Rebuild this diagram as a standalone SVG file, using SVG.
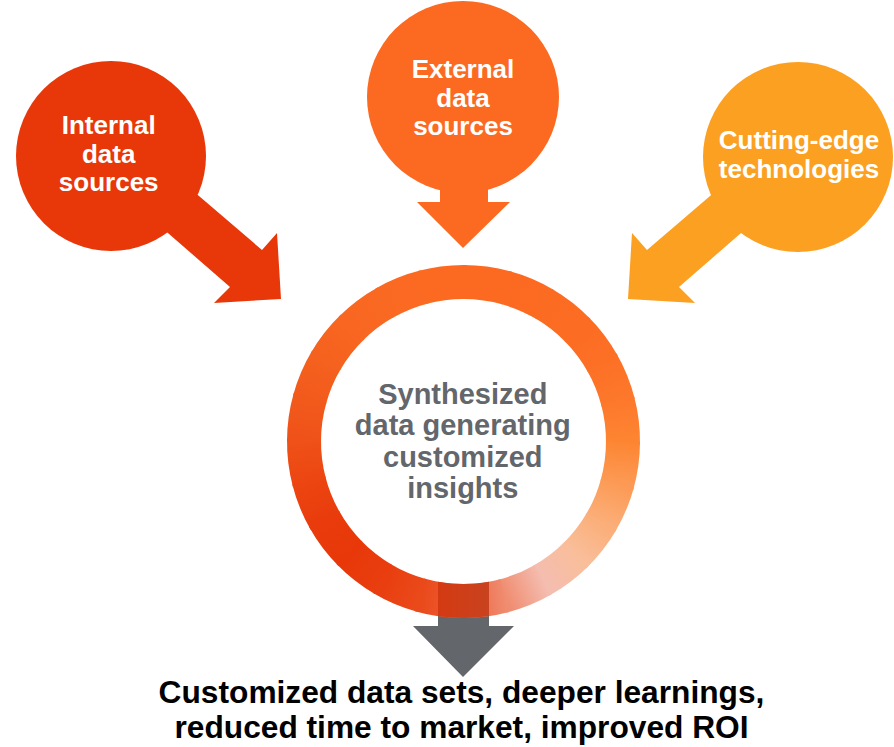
<svg xmlns="http://www.w3.org/2000/svg" width="894" height="747" viewBox="0 0 894 747">
<style>
.lbl{font-family:"Liberation Sans",Arial,sans-serif;font-weight:bold;text-anchor:middle}
.w{fill:#FFFFFF;font-size:26px}
.g{fill:#63666A;font-size:29px}
.k{fill:#000000;font-size:31.7px}
.seg{fill:none;stroke-width:34}
</style>
<defs>
<linearGradient id="s0" gradientUnits="userSpaceOnUse" x1="463.5" y1="282" x2="504.78" y2="287.44"><stop offset="0" stop-color="#FC6A22"/><stop offset="1" stop-color="#FC6A22"/></linearGradient>
<linearGradient id="s1" gradientUnits="userSpaceOnUse" x1="504.78" y1="287.44" x2="543.25" y2="303.37"><stop offset="0" stop-color="#FC6A22"/><stop offset="1" stop-color="#FC6B22"/></linearGradient>
<linearGradient id="s2" gradientUnits="userSpaceOnUse" x1="543.25" y1="303.37" x2="576.28" y2="328.72"><stop offset="0" stop-color="#FC6B22"/><stop offset="1" stop-color="#FC6C23"/></linearGradient>
<linearGradient id="s3" gradientUnits="userSpaceOnUse" x1="576.28" y1="328.72" x2="601.63" y2="361.75"><stop offset="0" stop-color="#FC6C23"/><stop offset="1" stop-color="#FC7026"/></linearGradient>
<linearGradient id="s4" gradientUnits="userSpaceOnUse" x1="601.63" y1="361.75" x2="617.56" y2="400.22"><stop offset="0" stop-color="#FC7026"/><stop offset="1" stop-color="#FD782B"/></linearGradient>
<linearGradient id="s5" gradientUnits="userSpaceOnUse" x1="617.56" y1="400.22" x2="623" y2="441.5"><stop offset="0" stop-color="#FD782B"/><stop offset="1" stop-color="#FD8532"/></linearGradient>
<linearGradient id="s6" gradientUnits="userSpaceOnUse" x1="623" y1="441.5" x2="617.56" y2="482.78"><stop offset="0" stop-color="#FD8532"/><stop offset="1" stop-color="#FC9A55"/></linearGradient>
<linearGradient id="s7" gradientUnits="userSpaceOnUse" x1="617.56" y1="482.78" x2="601.63" y2="521.25"><stop offset="0" stop-color="#FC9A55"/><stop offset="1" stop-color="#FBAE78"/></linearGradient>
<linearGradient id="s8" gradientUnits="userSpaceOnUse" x1="601.63" y1="521.25" x2="576.28" y2="554.28"><stop offset="0" stop-color="#FBAE78"/><stop offset="1" stop-color="#F9BE9A"/></linearGradient>
<linearGradient id="s9" gradientUnits="userSpaceOnUse" x1="576.28" y1="554.28" x2="543.25" y2="579.63"><stop offset="0" stop-color="#F9BE9A"/><stop offset="1" stop-color="#F4BDB0"/></linearGradient>
<linearGradient id="s10" gradientUnits="userSpaceOnUse" x1="543.25" y1="579.63" x2="504.78" y2="595.56"><stop offset="0" stop-color="#F4BDB0"/><stop offset="1" stop-color="#F08C70"/></linearGradient>
<linearGradient id="s11" gradientUnits="userSpaceOnUse" x1="504.78" y1="595.56" x2="463.5" y2="601"><stop offset="0" stop-color="#F08C70"/><stop offset="1" stop-color="#EC5F38"/></linearGradient>
<linearGradient id="s12" gradientUnits="userSpaceOnUse" x1="463.5" y1="601" x2="422.22" y2="595.56"><stop offset="0" stop-color="#EC5F38"/><stop offset="1" stop-color="#EA4A1B"/></linearGradient>
<linearGradient id="s13" gradientUnits="userSpaceOnUse" x1="422.22" y1="595.56" x2="383.75" y2="579.63"><stop offset="0" stop-color="#EA4A1B"/><stop offset="1" stop-color="#E93E0F"/></linearGradient>
<linearGradient id="s14" gradientUnits="userSpaceOnUse" x1="383.75" y1="579.63" x2="350.72" y2="554.28"><stop offset="0" stop-color="#E93E0F"/><stop offset="1" stop-color="#E8380A"/></linearGradient>
<linearGradient id="s15" gradientUnits="userSpaceOnUse" x1="350.72" y1="554.28" x2="325.37" y2="521.25"><stop offset="0" stop-color="#E8380A"/><stop offset="1" stop-color="#E93B0C"/></linearGradient>
<linearGradient id="s16" gradientUnits="userSpaceOnUse" x1="325.37" y1="521.25" x2="309.44" y2="482.78"><stop offset="0" stop-color="#E93B0C"/><stop offset="1" stop-color="#EC4511"/></linearGradient>
<linearGradient id="s17" gradientUnits="userSpaceOnUse" x1="309.44" y1="482.78" x2="304" y2="441.5"><stop offset="0" stop-color="#EC4511"/><stop offset="1" stop-color="#EF5118"/></linearGradient>
<linearGradient id="s18" gradientUnits="userSpaceOnUse" x1="304" y1="441.5" x2="309.44" y2="400.22"><stop offset="0" stop-color="#EF5118"/><stop offset="1" stop-color="#F25A1C"/></linearGradient>
<linearGradient id="s19" gradientUnits="userSpaceOnUse" x1="309.44" y1="400.22" x2="325.37" y2="361.75"><stop offset="0" stop-color="#F25A1C"/><stop offset="1" stop-color="#F5611E"/></linearGradient>
<linearGradient id="s20" gradientUnits="userSpaceOnUse" x1="325.37" y1="361.75" x2="350.72" y2="328.72"><stop offset="0" stop-color="#F5611E"/><stop offset="1" stop-color="#F86621"/></linearGradient>
<linearGradient id="s21" gradientUnits="userSpaceOnUse" x1="350.72" y1="328.72" x2="383.75" y2="303.37"><stop offset="0" stop-color="#F86621"/><stop offset="1" stop-color="#FA6922"/></linearGradient>
<linearGradient id="s22" gradientUnits="userSpaceOnUse" x1="383.75" y1="303.37" x2="422.22" y2="287.44"><stop offset="0" stop-color="#FA6922"/><stop offset="1" stop-color="#FC6A22"/></linearGradient>
<linearGradient id="s23" gradientUnits="userSpaceOnUse" x1="422.22" y1="287.44" x2="463.5" y2="282"><stop offset="0" stop-color="#FC6A22"/><stop offset="1" stop-color="#FC6A22"/></linearGradient>
<linearGradient id="patch" x1="0" y1="0" x2="1" y2="0"><stop offset="0" stop-color="#D43A12"/><stop offset="1" stop-color="#C8431F"/></linearGradient>
</defs>

<g id="connectors">
  <polygon id="arrow-internal" fill="#E83709" points="137,143 262,250 277,233 281,299 214,303 230,287 107,180"/>
  <polygon id="arrow-external" fill="#FC6A21" points="440,150 488,150 488,202 510,202 463,248 417,202 440,202"/>
  <polygon id="arrow-cutting" fill="#FCA021" points="772,143 647,250 632,233 628,299 695,303 679,287 802,180"/>
  <polygon id="arrow-output" fill="#63666A" points="438,590 489,590 489,626 514,626 463,677 413,626 438,626"/>
</g>

<g id="node-internal">
  <circle cx="111" cy="156" r="95" fill="#E83709"/>
  <text class="lbl w" x="108.7" y="134">Internal</text>
  <text class="lbl w" x="108.7" y="162.5">data</text>
  <text class="lbl w" x="108.7" y="190.5">sources</text>
</g>

<g id="node-external">
  <circle cx="463" cy="97" r="96" fill="#FC6A21"/>
  <text class="lbl w" x="463" y="78.3">External</text>
  <text class="lbl w" x="463" y="106.5">data</text>
  <text class="lbl w" x="463" y="134.5">sources</text>
</g>

<g id="node-cutting">
  <circle cx="798" cy="157" r="95" fill="#FCA021"/>
  <text class="lbl w" x="799" y="149.3">Cutting-edge</text>
  <text class="lbl w" x="799" y="178.3">technologies</text>
</g>

<g id="node-center">
  <path class="seg" stroke="url(#s0)" d="M463.5,282 A159.5,159.5 0 0 1 507.46,288.17"/>
  <path class="seg" stroke="url(#s1)" d="M504.78,287.44 A159.5,159.5 0 0 1 545.64,304.78"/>
  <path class="seg" stroke="url(#s2)" d="M543.25,303.37 A159.5,159.5 0 0 1 578.23,330.7"/>
  <path class="seg" stroke="url(#s3)" d="M576.28,328.72 A159.5,159.5 0 0 1 603,364.17"/>
  <path class="seg" stroke="url(#s4)" d="M601.63,361.75 A159.5,159.5 0 0 1 618.26,402.92"/>
  <path class="seg" stroke="url(#s5)" d="M617.56,400.22 A159.5,159.5 0 0 1 622.98,444.28"/>
  <path class="seg" stroke="url(#s6)" d="M623,441.5 A159.5,159.5 0 0 1 616.83,485.46"/>
  <path class="seg" stroke="url(#s7)" d="M617.56,482.78 A159.5,159.5 0 0 1 600.22,523.64"/>
  <path class="seg" stroke="url(#s8)" d="M601.63,521.25 A159.5,159.5 0 0 1 574.3,556.23"/>
  <path class="seg" stroke="url(#s9)" d="M576.28,554.28 A159.5,159.5 0 0 1 540.83,580.99"/>
  <path class="seg" stroke="url(#s10)" d="M543.25,579.63 A159.5,159.5 0 0 1 502.08,596.26"/>
  <path class="seg" stroke="url(#s11)" d="M504.78,595.56 A159.5,159.5 0 0 1 460.72,600.97"/>
  <path class="seg" stroke="url(#s12)" d="M463.5,601 A159.5,159.5 0 0 1 419.54,594.83"/>
  <path class="seg" stroke="url(#s13)" d="M422.22,595.56 A159.5,159.5 0 0 1 381.36,578.22"/>
  <path class="seg" stroke="url(#s14)" d="M383.75,579.63 A159.5,159.5 0 0 1 348.77,552.3"/>
  <path class="seg" stroke="url(#s15)" d="M350.72,554.28 A159.5,159.5 0 0 1 324,518.83"/>
  <path class="seg" stroke="url(#s16)" d="M325.37,521.25 A159.5,159.5 0 0 1 308.74,480.08"/>
  <path class="seg" stroke="url(#s17)" d="M309.44,482.78 A159.5,159.5 0 0 1 304.03,438.72"/>
  <path class="seg" stroke="url(#s18)" d="M304,441.5 A159.5,159.5 0 0 1 310.17,397.54"/>
  <path class="seg" stroke="url(#s19)" d="M309.44,400.22 A159.5,159.5 0 0 1 326.78,359.36"/>
  <path class="seg" stroke="url(#s20)" d="M325.37,361.75 A159.5,159.5 0 0 1 352.7,326.77"/>
  <path class="seg" stroke="url(#s21)" d="M350.72,328.72 A159.5,159.5 0 0 1 386.17,302"/>
  <path class="seg" stroke="url(#s22)" d="M383.75,303.37 A159.5,159.5 0 0 1 424.92,286.74"/>
  <path class="seg" stroke="url(#s23)" d="M422.22,287.44 A159.5,159.5 0 0 1 466.28,282.03"/>
  <path fill="url(#patch)" d="M438,581.7 A142.5,142.5 0 0 0 489,581.7 L489,616.1 A176.5,176.5 0 0 1 438,616.1 Z"/>
  <text class="lbl g" x="462.8" y="403.5">Synthesized</text>
  <text class="lbl g" x="462.8" y="435">data generating</text>
  <text class="lbl g" x="462.8" y="466.5">customized</text>
  <text class="lbl g" x="462.8" y="498">insights</text>
</g>

<g id="node-output">
  <text class="lbl k" x="461.5" y="703.3">Customized data sets, deeper learnings,</text>
  <text class="lbl k" x="461.5" y="737.5">reduced time to market, improved ROI</text>
</g>
</svg>
